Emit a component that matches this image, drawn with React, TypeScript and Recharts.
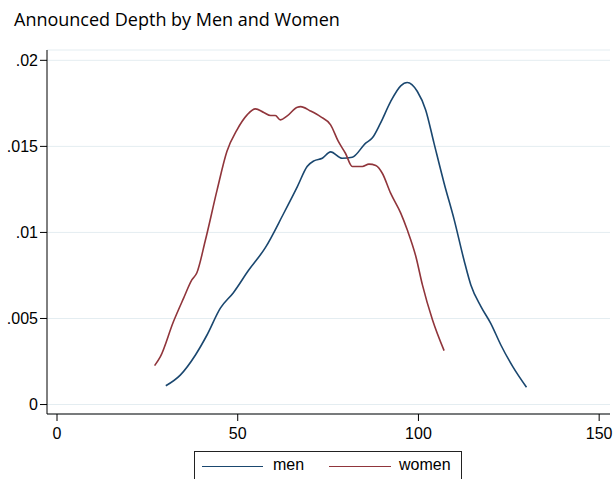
import React from 'react';
import { LineChart, Line, XAxis, YAxis, CartesianGrid } from 'recharts';

const menX = [30.1, 34.1, 38.3, 41.5, 45.2, 48.8, 53.0, 57.6, 62.7, 66.5, 69.2, 71.1, 73.4, 75.7, 78.9, 81.7, 85.4, 87.2, 89.5, 92.3, 95.1, 96.9, 99.7, 102.0, 104.3, 107.1, 109.9, 112.6, 114.5, 117.3, 120.0, 122.8, 126.1, 129.9];
const menY = [0.00109, 0.00171, 0.00288, 0.00404, 0.0056, 0.0065, 0.0078, 0.0091, 0.0111, 0.01266, 0.01383, 0.01416, 0.01431, 0.01468, 0.01431, 0.01437, 0.01519, 0.01548, 0.01635, 0.0176, 0.01852, 0.01871, 0.01819, 0.01712, 0.01519, 0.01286, 0.01073, 0.0084, 0.00695, 0.00569, 0.00472, 0.00346, 0.0022, 0.001];

const womenX = [27.0, 28.6, 32.2, 35.0, 37.3, 38.7, 41.0, 44.3, 47.0, 49.8, 52.6, 54.9, 57.2, 59.1, 60.4, 61.8, 63.7, 66.5, 67.4, 70.1, 72.9, 75.7, 77.8, 79.8, 81.7, 84.5, 86.3, 88.2, 90.0, 92.3, 95.1, 96.9, 99.3, 101.1, 103.9, 107.1];
const womenY = [0.00226, 0.00278, 0.00481, 0.00617, 0.00724, 0.00766, 0.0095, 0.01247, 0.0147, 0.01596, 0.01683, 0.01718, 0.01697, 0.01679, 0.01679, 0.01654, 0.01677, 0.01728, 0.01731, 0.01706, 0.01673, 0.01625, 0.0153, 0.0146, 0.01383, 0.01383, 0.01397, 0.01389, 0.01344, 0.01228, 0.01112, 0.01015, 0.00859, 0.00695, 0.00491, 0.00313];

const xTicks = [0, 50, 100, 150];
const yTicks = [0, 0.005, 0.01, 0.015, 0.02];
const yTickLabels = ['0', '.005', '.01', '.015', '.02'];
const seriesNames = ['men', 'women'];

const MEN_COLOR = '#1a476f';
const WOMEN_COLOR = '#90353b';
const FONT = '"Liberation Sans", Arial, sans-serif';

const menData = menX.map((x, i) => ({ x, y: menY[i] }));
const womenData = womenX.map((x, i) => ({ x, y: womenY[i] }));

// stata-style boxed legend under the plot (it runs off the bottom edge)
const LegendBox = () => (
  <div
    style={{
      position: 'absolute',
      left: 194,
      top: 451,
      width: 268,
      height: 40,
      border: '1px solid #222',
      boxSizing: 'border-box',
      background: '#fff',
      fontFamily: FONT,
      fontSize: 16,
      color: '#000',
    }}
  >
    <span style={{ position: 'absolute', left: 7, top: 14, width: 61, borderTop: `1.5px solid ${MEN_COLOR}` }} />
    <span style={{ position: 'absolute', left: 78, top: 4 }}>{seriesNames[0]}</span>
    <span style={{ position: 'absolute', left: 134, top: 14, width: 62, borderTop: `1.5px solid ${WOMEN_COLOR}` }} />
    <span style={{ position: 'absolute', left: 204, top: 4 }}>{seriesNames[1]}</span>
  </div>
);

export default function App() {
  return (
    <div style={{ position: 'fixed', left: 0, top: 0, width: 613, height: 479, background: '#fff', overflow: 'hidden' }}>
      <div
        style={{
          position: 'absolute',
          left: 14,
          top: 7,
          fontFamily: '"Open Sans", sans-serif',
          fontSize: 18,
          color: '#000',
          whiteSpace: 'nowrap',
        }}
      >
        Announced Depth by Men and Women
      </div>
      <LineChart width={613} height={479} margin={{ top: 50, right: 3, left: 0, bottom: 0 }}>
        <CartesianGrid horizontal vertical={false} stroke="#e4edf1" strokeWidth={1} />
        <XAxis
          type="number"
          dataKey="x"
          domain={[-2.77, 153]}
          ticks={xTicks}
          allowDataOverflow
          height={65}
          tickSize={7}
          tick={{ fill: '#000', fontSize: 16, fontFamily: FONT, dy: 5 }}
          stroke="#000"
        />
        <YAxis
          type="number"
          domain={[-0.00055, 0.0206]}
          ticks={yTicks}
          allowDataOverflow
          width={47}
          tickSize={7}
          tickFormatter={(v: number) => yTickLabels[yTicks.indexOf(v)] ?? String(v)}
          tick={{ fill: '#000', fontSize: 16, fontFamily: FONT }}
          stroke="#000"
        />
        <Line data={menData} dataKey="y" name={seriesNames[0]} type="monotone" stroke={MEN_COLOR} strokeWidth={1.6} dot={false} isAnimationActive={false} />
        <Line data={womenData} dataKey="y" name={seriesNames[1]} type="monotone" stroke={WOMEN_COLOR} strokeWidth={1.6} dot={false} isAnimationActive={false} />
      </LineChart>
      <LegendBox />
    </div>
  );
}
